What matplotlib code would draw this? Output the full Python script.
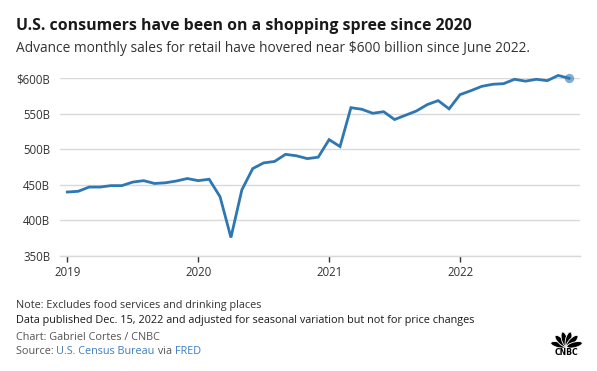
import matplotlib.pyplot as plt
import matplotlib.patches as mpatches
import numpy as np

# Advance retail sales excl. food services, monthly from Jan 2019, billions USD
sales = [
    440, 441, 447, 447, 449, 449, 454, 456, 452, 453, 455.5, 459,   # 2019
    456, 458, 433.5, 376, 443, 473, 481, 483, 493, 491, 487, 489,   # 2020
    513.7, 504, 558.7, 556.4, 550.8, 553, 542, 548, 554, 563, 568.6, 557,  # 2021
    577, 582.6, 588.7, 591.6, 592.5, 598.6, 596, 598.6, 596.7, 604, 600,   # 2022
]
year_labels = ["2019", "2020", "2021", "2022"]
y_ticks = [350, 400, 450, 500, 550, 600]

LINE_BLUE = "#2f77b1"
TEXT_DARK = "#1a1a1a"
TEXT_GRAY = "#333333"
LINK_BLUE = "#3d7cc0"

W, H = 597, 371

plt.rcParams["font.family"] = ["Open Sans", "DejaVu Sans"]

fig = plt.figure(figsize=(W / 100, H / 100), dpi=100)
ax = fig.add_axes([60 / W, 1 - 256 / H, 520 / W, (256 - 78.3) / H])

months = np.arange(len(sales))
ax.plot(months, sales, color=LINE_BLUE, linewidth=2.0, clip_on=False,
        solid_joinstyle="miter", zorder=3)
ax.scatter([months[-1]], [sales[-1]], s=45, color=LINE_BLUE, alpha=0.6,
           clip_on=False, zorder=4, linewidths=0)

ax.set_xlim(-0.67, 47.0)
ax.set_ylim(350, 600)

ax.set_yticks(y_ticks)
ax.set_yticklabels([f"${v}B" if v == 600 else f"{v}B" for v in y_ticks])
ax.yaxis.grid(True, color="#d9d9d9", linewidth=1.0)
ax.set_axisbelow(True)

ax.set_xticks([12 * i for i in range(len(year_labels))])
ax.set_xticklabels(year_labels)

for side in ["top", "right", "left"]:
    ax.spines[side].set_visible(False)
ax.spines["bottom"].set_color("#d9d9d9")
ax.spines["bottom"].set_linewidth(1.0)

ax.tick_params(axis="y", length=0, pad=7, labelsize=8.3, labelcolor=TEXT_GRAY)
ax.tick_params(axis="x", length=4, width=1, color="#333333", pad=3,
               labelsize=8.3, labelcolor=TEXT_GRAY, direction="out")

renderer = fig.canvas.get_renderer()


def fit_text(x0, x1, y, text, size, **kw):
    # place text, then scale font so it spans x0..x1 pixels
    t = fig.text(x0 / W, 1 - y / H, text, fontsize=size, va="center", **kw)
    width = t.get_window_extent(renderer).width
    t.set_fontsize(size * (x1 - x0) / width)
    return t


def text_run(x0, y, parts, size):
    # consecutive text pieces with different colours on one line
    x = x0 / W
    for piece, color in parts:
        t = fig.text(x, 1 - y / H, piece, fontsize=size, color=color, va="center")
        x = t.get_window_extent(renderer).x1 / fig.bbox.width


# Title and subtitle
fit_text(16, 471, 26.5, "U.S. consumers have been on a shopping spree since 2020",
         12, fontweight="bold", color=TEXT_DARK)
fit_text(16, 528, 49, "Advance monthly sales for retail have hovered near $600 billion since June 2022.",
         10, color=TEXT_GRAY)

# Footer notes
data_line = fit_text(16, 479, 321,
                     "Data published Dec. 15, 2022 and adjusted for seasonal variation but not for price changes",
                     8, color=TEXT_DARK)
fsize = data_line.get_fontsize()
fig.text(16 / W, 1 - 305.5 / H, "Note: Excludes food services and drinking places",
         fontsize=fsize, color=TEXT_GRAY, va="center")
fig.text(16 / W, 1 - 337 / H, "Chart: Gabriel Cortes / CNBC",
         fontsize=fsize, color="#555555", va="center")
text_run(16, 352, [("Source: ", "#555555"), ("U.S. Census Bureau", LINK_BLUE),
                   (" via ", "#555555"), ("FRED", LINK_BLUE)], fsize)

# CNBC peacock mark (simplified)
logo_ax = fig.add_axes([550 / W, 1 - 356 / H, 33 / W, 25 / H])
logo_ax.set_xlim(-1.3, 1.3)
logo_ax.set_ylim(-0.75, 1.35)
logo_ax.axis("off")
for ang in [165, 133, 104, 76, 47, 15]:
    rad = np.deg2rad(ang)
    cx, cy = 0.66 * np.cos(rad), 0.66 * np.sin(rad) + 0.02
    logo_ax.add_patch(mpatches.Ellipse((cx, cy), 1.25, 0.46, angle=ang,
                                       facecolor="black", edgecolor="white",
                                       linewidth=0.6))
logo_ax.text(0, -0.48, "CNBC", ha="center", va="center", fontsize=5.6,
             fontweight="heavy", color="black", family="DejaVu Sans")

fig.savefig("out.png", dpi=100)
